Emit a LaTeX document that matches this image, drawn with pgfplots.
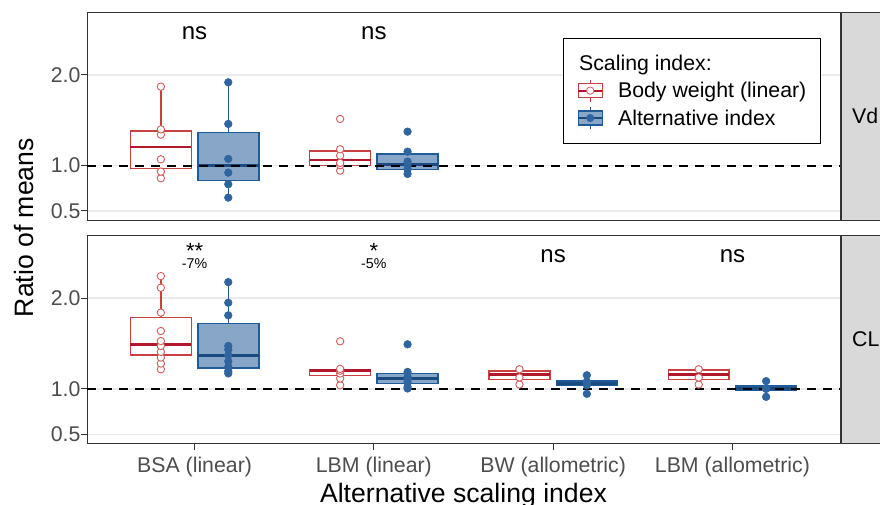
\documentclass[border=0pt]{standalone}
\usepackage{fontspec}
\setmainfont{Liberation Sans}
\usepackage{pgfplots}
\pgfplotsset{compat=1.18}
\usepgfplotslibrary{statistics}

\definecolor{bwred}{HTML}{C8403F}
\definecolor{bwredd}{HTML}{B2182B}
\definecolor{ptred}{HTML}{D65A5A}
\definecolor{bwblue}{HTML}{1F5A99}
\definecolor{bwblued}{HTML}{1A4A80}
\definecolor{bluefill}{HTML}{88A6C8}
\definecolor{ptblue}{HTML}{2E64A0}
\definecolor{gridc}{HTML}{EBEBEB}
\definecolor{framec}{HTML}{333333}
\definecolor{ticktext}{HTML}{4D4D4D}
\definecolor{stripc}{HTML}{D9D9D9}

\newcommand\ticksize{\fontsize{21.3}{25}\selectfont}
\newcommand\titlesize{\fontsize{26.6}{31}\selectfont}
\newcommand\nssize{\fontsize{24}{28}\selectfont}
\newcommand\pctsize{\fontsize{14.2}{17}\selectfont}

\pgfplotsset{
  panel/.style={
    scale only axis, width=753pt,
    xmin=0.4, xmax=4.6, ymin=0.40, ymax=2.695,
    axis line style={draw=framec, line width=1pt},
    ytick={0.5,1,2}, yticklabels={0.5,1.0,2.0},
    ymajorgrids, major grid style={draw=gridc, line width=1.3pt},
    tick align=outside, major tick length=6.3pt, tick pos=left,
    tick style={draw=framec, line width=1pt},
    yticklabel style={font=\ticksize, text=ticktext, anchor=east, inner sep=0pt},
    xticklabel style={font=\ticksize, text=ticktext},
    boxplot/draw direction=y,
  },
  redbox/.style={forget plot, draw=bwred, fill=white, line width=1.5pt,
    boxplot/every median/.style={draw=bwredd, line width=2.8pt}},
  bluebox/.style={forget plot, draw=bwblue, fill=bluefill, line width=1.5pt,
    boxplot/every median/.style={draw=bwblued, line width=2.8pt}},
  redpts/.style={forget plot, only marks, mark=*, mark size=3.7pt,
    mark options={draw=ptred, fill=white, line width=0.9pt}},
  bluepts/.style={forget plot, only marks, mark=*, mark size=3.8pt,
    mark options={draw=ptblue, fill=ptblue, line width=0.6pt}},
  refline/.style={forget plot, black, line width=2pt, dash pattern=on 9pt off 7pt},
}

\begin{document}
\begin{tikzpicture}[x=1pt,y=1pt]
\path[use as bounding box] (0,0) rectangle (880,-504);

% strips
\fill[stripc] (841,-12) rectangle (905,-220);
\draw[framec, line width=1pt] (841,-12) rectangle (905,-220);
\fill[stripc] (841,-235) rectangle (905,-443.3);
\draw[framec, line width=1pt] (841,-235) rectangle (905,-443.3);
\node[anchor=west, font=\ticksize, inner sep=0pt] at (852,-116) {Vd};
\node[anchor=west, font=\ticksize, inner sep=0pt] at (852,-339.2) {CL};

% y title
\node[rotate=90, anchor=base, font=\titlesize, inner sep=0pt] at (33,-227.6) {Ratio of means};

% ---------------- Vd panel ----------------
\begin{axis}[panel, at={(87pt,-12pt)}, anchor=north west, height=208pt,
  xtick=\empty,
  legend cell align=left,
  legend style={at={(0.632,0.874)}, anchor=north west, draw=black, line width=0.8pt,
    fill=white, font=\ticksize, inner xsep=14pt, inner ysep=13.7pt,
    row sep=4.2pt, column sep=15pt,
    nodes={inner sep=0pt, text height=18.5pt, text depth=4pt}},
]
\addlegendimage{empty legend}
\addlegendentry{\hspace*{-39pt}Scaling index:}
\addlegendimage{legend image code/.code={
  \draw[draw=bwred, line width=1.2pt] (12pt,-11pt) -- (12pt,11pt);
  \draw[draw=bwred, fill=white, line width=1.2pt] (0pt,-7pt) rectangle (24pt,7pt);
  \draw[draw=bwredd, line width=1.8pt] (0pt,0pt) -- (24pt,0pt);
  \draw[draw=ptred, fill=white, line width=0.8pt] (12pt,0pt) circle (3.7pt);
}}
\addlegendentry{Body weight (linear)}
\addlegendimage{legend image code/.code={
  \draw[draw=bwblue, line width=1.2pt] (12pt,-11pt) -- (12pt,11pt);
  \draw[draw=bwblue, fill=bluefill, line width=1.2pt] (0pt,-7pt) rectangle (24pt,7pt);
  \draw[draw=bwblued, line width=1.8pt] (0pt,0pt) -- (24pt,0pt);
  \draw[draw=ptblue, fill=ptblue, line width=0.6pt] (12pt,0pt) circle (3.7pt);
}}
\addlegendentry{Alternative index}

% BSA (linear)
\addplot[redbox, boxplot prepared={draw position=0.812, lower whisker=0.861, lower quartile=0.966, median=1.206, upper quartile=1.383, upper whisker=1.871, box extend=0.34, whisker extend=0}] coordinates {};
\addplot[bluebox, boxplot prepared={draw position=1.188, lower whisker=0.647, lower quartile=0.835, median=0.999, upper quartile=1.364, upper whisker=1.919, box extend=0.34, whisker extend=0}] coordinates {};
% LBM (linear)
\addplot[redbox, boxplot prepared={draw position=1.812, lower whisker=0.945, lower quartile=1.0, median=1.063, upper quartile=1.162, upper whisker=1.181, box extend=0.34, whisker extend=0}] coordinates {};
\addplot[bluebox, boxplot prepared={draw position=2.188, lower whisker=0.908, lower quartile=0.96, median=1.01, upper quartile=1.126, upper whisker=1.154, box extend=0.34, whisker extend=0}] coordinates {};

\addplot[refline] coordinates {(0.4,1) (4.6,1)};

\addplot[redpts] coordinates {(0.812,0.861) (0.812,0.934) (0.812,1.07) (0.812,1.342) (0.812,1.40) (0.812,1.871)
  (1.812,0.945) (1.812,1.005) (1.812,1.03) (1.812,1.11) (1.812,1.181) (1.812,1.515)};
\addplot[bluepts] coordinates {(1.188,0.647) (1.188,0.795) (1.188,0.923) (1.188,1.074) (1.188,1.46) (1.188,1.919)
  (2.188,0.908) (2.188,0.96) (2.188,1.0) (2.188,1.044) (2.188,1.154) (2.188,1.375)};

\node[anchor=base, font=\nssize] at (axis cs:1,2.39) {ns};
\node[anchor=base, font=\nssize] at (axis cs:2,2.39) {ns};
\end{axis}

% ---------------- CL panel ----------------
\begin{axis}[panel, at={(87pt,-235pt)}, anchor=north west, height=208.3pt,
  xtick={1,2,3,4},
  xticklabels={BSA (linear), LBM (linear), BW (allometric), LBM (allometric)},
  xticklabel style={anchor=base, inner sep=0pt, yshift=-23pt},
  xlabel={Alternative scaling index},
  xlabel style={font=\titlesize, anchor=base, inner sep=0pt, at={(axis description cs:0.5,0)}, yshift=-58.7pt},
]
% BSA (linear)
\addplot[redbox, boxplot prepared={draw position=0.812, lower whisker=1.216, lower quartile=1.374, median=1.488, upper quartile=1.788, upper whisker=2.242, box extend=0.34, whisker extend=0}] coordinates {};
\addplot[bluebox, boxplot prepared={draw position=1.188, lower whisker=1.17, lower quartile=1.231, median=1.367, upper quartile=1.722, upper whisker=2.176, box extend=0.34, whisker extend=0}] coordinates {};
% LBM (linear)
\addplot[redbox, boxplot prepared={draw position=1.812, lower whisker=1.04, lower quartile=1.147, median=1.206, upper quartile=1.213, upper whisker=1.22, box extend=0.34, whisker extend=0}] coordinates {};
\addplot[bluebox, boxplot prepared={draw position=2.188, lower whisker=1.004, lower quartile=1.059, median=1.11, upper quartile=1.169, upper whisker=1.187, box extend=0.34, whisker extend=0}] coordinates {};
% BW (allometric)
\addplot[redbox, boxplot prepared={draw position=2.812, lower whisker=1.048, lower quartile=1.103, median=1.162, upper quartile=1.198, upper whisker=1.216, box extend=0.34, whisker extend=0}] coordinates {};
\addplot[bluebox, boxplot prepared={draw position=3.188, lower whisker=0.945, lower quartile=1.037, median=1.06, upper quartile=1.085, upper whisker=1.15, box extend=0.34, whisker extend=0}] coordinates {};
% LBM (allometric)
\addplot[redbox, boxplot prepared={draw position=3.812, lower whisker=1.048, lower quartile=1.103, median=1.162, upper quartile=1.205, upper whisker=1.216, box extend=0.34, whisker extend=0}] coordinates {};
\addplot[bluebox, boxplot prepared={draw position=4.188, lower whisker=0.912, lower quartile=0.986, median=1.0, upper quartile=1.033, upper whisker=1.085, box extend=0.34, whisker extend=0}] coordinates {};

\addplot[refline] coordinates {(0.4,1) (4.6,1)};

\addplot[redpts] coordinates {(0.812,1.216) (0.812,1.279) (0.812,1.345) (0.812,1.407) (0.812,1.473) (0.812,1.527) (0.812,1.637) (0.812,1.84) (0.812,2.114) (0.812,2.242)
  (1.812,1.04) (1.812,1.114) (1.812,1.169) (1.812,1.20) (1.812,1.22) (1.812,1.524)
  (2.812,1.048) (2.812,1.125) (2.812,1.216)
  (3.812,1.048) (3.812,1.125) (3.812,1.216)};
\addplot[bluepts] coordinates {(1.188,1.17) (1.188,1.195) (1.188,1.242) (1.188,1.304) (1.188,1.37) (1.188,1.433) (1.188,1.473) (1.188,1.81) (1.188,1.949) (1.188,2.176)
  (2.188,1.004) (2.188,1.022) (2.188,1.077) (2.188,1.11) (2.188,1.132) (2.188,1.187) (2.188,1.491)
  (3.188,0.945) (3.188,1.04) (3.188,1.066) (3.188,1.08) (3.188,1.15)
  (4.188,0.912) (4.188,1.0) (4.188,1.004) (4.188,1.085)};

\node[anchor=base, font=\fontsize{22}{26}\selectfont] at (axis cs:1,2.436) {**};
\node[anchor=base, font=\pctsize] at (axis cs:1,2.323) {-7\%};
\node[anchor=base, font=\fontsize{22}{26}\selectfont] at (axis cs:2,2.436) {*};
\node[anchor=base, font=\pctsize] at (axis cs:2,2.323) {-5\%};
\node[anchor=base, font=\nssize] at (axis cs:3,2.39) {ns};
\node[anchor=base, font=\nssize] at (axis cs:4,2.39) {ns};
\end{axis}
\end{tikzpicture}
\end{document}
